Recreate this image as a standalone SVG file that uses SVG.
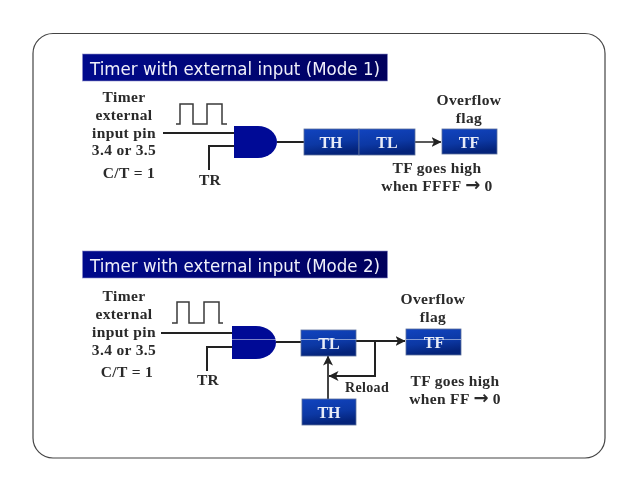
<svg xmlns="http://www.w3.org/2000/svg" width="638" height="493" viewBox="0 0 638 493">
<style>
text{filter:url(#s)}
.t{font-family:"Liberation Serif","Times New Roman",serif;font-weight:bold;font-size:15.500px;fill:#2a2a2a;text-anchor:middle;letter-spacing:.35px}
.b{font-family:"Liberation Serif","Times New Roman",serif;font-weight:bold;font-size:16px;fill:#e8ecf8;text-anchor:middle}
.h{font-family:"DejaVu Sans",Verdana,sans-serif;font-size:18px;fill:#f0f0fa}
.ar{font-family:"DejaVu Sans",sans-serif;font-size:18px;letter-spacing:0}
.w{fill:none;stroke:#222;stroke-width:2}
.p{fill:none;stroke:#3a3a3a;stroke-width:1.500}
.box{fill:url(#g);stroke:#5a6e9c;stroke-width:.8}
.and{fill:#000a96}
.streak{stroke:#fff;stroke-width:.7;opacity:.7}
</style>
<defs>
<filter id="s" x="-5%" y="-10%" width="110%" height="120%"><feGaussianBlur stdDeviation=".35"/></filter>
<linearGradient id="g" x1="0" y1="0" x2="0.25" y2="1"><stop offset="0" stop-color="#1144c0"/><stop offset=".6" stop-color="#0c38a4"/><stop offset="1" stop-color="#04237a"/></linearGradient>
<linearGradient id="hb" x1="0" y1="0" x2="1" y2="0"><stop offset="0" stop-color="#000a8c"/><stop offset="1" stop-color="#00005c"/></linearGradient>
<marker id="a" viewBox="0 0 10 10" refX="9.500" refY="5" markerWidth="10" markerHeight="10" markerUnits="userSpaceOnUse" orient="auto"><path d="M0 0L10 5L0 10L2.500 5Z" fill="#222"/></marker>
</defs>
<rect width="638" height="493" fill="#fff"/>
<rect id="frame" x="33" y="33.500" width="572" height="424.500" rx="20" fill="#fff" stroke="#444" stroke-width="1.200"/>
<g id="title1"><rect x="82.500" y="54" width="305" height="27" fill="url(#hb)" stroke="#8a8ac8" stroke-width=".6"/><text class="h" x="90" y="75" textLength="290" lengthAdjust="spacingAndGlyphs">Timer with external input (Mode 1)</text></g>
<g id="title2"><rect x="82.500" y="251" width="305" height="27" fill="url(#hb)" stroke="#8a8ac8" stroke-width=".6"/><text class="h" x="90" y="271.500" textLength="290" lengthAdjust="spacingAndGlyphs">Timer with external input (Mode 2)</text></g>
<g id="connectors">
<path class="p" d="M176 124H180V104H193V124H207V104H222V124H227"/>
<path class="w" d="M163 133H234M234 146H209V170M277 142H304"/>
<path class="w" style="stroke-width:1.500" d="M415 142H441" marker-end="url(#a)"/>
<path class="p" d="M172 323H177V302H189V323H204V302H219V323H223"/>
<path class="w" d="M161 333H232M232 347H207V371M276 342H301"/>
<path class="w" d="M356 341H405" marker-end="url(#a)"/>
<path class="w" d="M375 341V376H329" marker-end="url(#a)"/>
<path class="w" style="stroke:#444" d="M328 399V356" marker-end="url(#a)"/>
</g>
<g id="and1"><path class="and" d="M234 126H258A19 16 0 0 1 258 158H234Z"/></g>
<g id="and2"><path class="and" d="M232 326H256A20 16.500 0 0 1 256 359H232Z"/><path class="streak" d="M232 339.500H276"/></g>
<g id="th1"><rect class="box" x="304" y="129" width="55" height="26"/><text class="b" x="331" y="148">TH</text></g>
<g id="tl1"><rect class="box" x="359" y="129" width="56" height="26"/><text class="b" x="387" y="148">TL</text></g>
<g id="tf1"><rect class="box" x="442" y="129" width="55" height="25"/><text class="b" x="469" y="148">TF</text></g>
<g id="tl2"><rect class="box" x="301" y="330" width="55" height="26"/><path class="streak" d="M301 339.500H356"/><text class="b" x="329" y="349">TL</text></g>
<g id="tf2"><rect class="box" x="406" y="329" width="55" height="26"/><path class="streak" d="M406 339.500H461"/><text class="b" x="434" y="348">TF</text></g>
<g id="th2"><rect class="box" x="302" y="399" width="54" height="26"/><text class="b" x="329" y="418">TH</text></g>
<g id="labels1">
<text class="t" x="124" y="102">Timer</text><text class="t" x="124" y="120">external</text><text class="t" x="124" y="138">input pin</text><text class="t" x="124" y="155">3.4 or 3.5</text><text class="t" x="129" y="178">C/T = 1</text><text class="t" x="210" y="185">TR</text>
<text class="t" x="469" y="105">Overflow</text><text class="t" x="469" y="123">flag</text><text class="t" x="437" y="173">TF goes high</text><text class="t" x="437" y="191">when FFFF <tspan class="ar">→</tspan> 0</text>
</g>
<g id="labels2">
<text class="t" x="124" y="301">Timer</text><text class="t" x="124" y="319">external</text><text class="t" x="124" y="337">input pin</text><text class="t" x="124" y="355">3.4 or 3.5</text><text class="t" x="127" y="377">C/T = 1</text><text class="t" x="208" y="385">TR</text>
<text class="t" x="433" y="304">Overflow</text><text class="t" x="433" y="322">flag</text><text class="t" x="367" y="392" style="font-size:14px">Reload</text><text class="t" x="455" y="386">TF goes high</text><text class="t" x="455" y="404">when FF <tspan class="ar">→</tspan> 0</text>
</g>
</svg>
